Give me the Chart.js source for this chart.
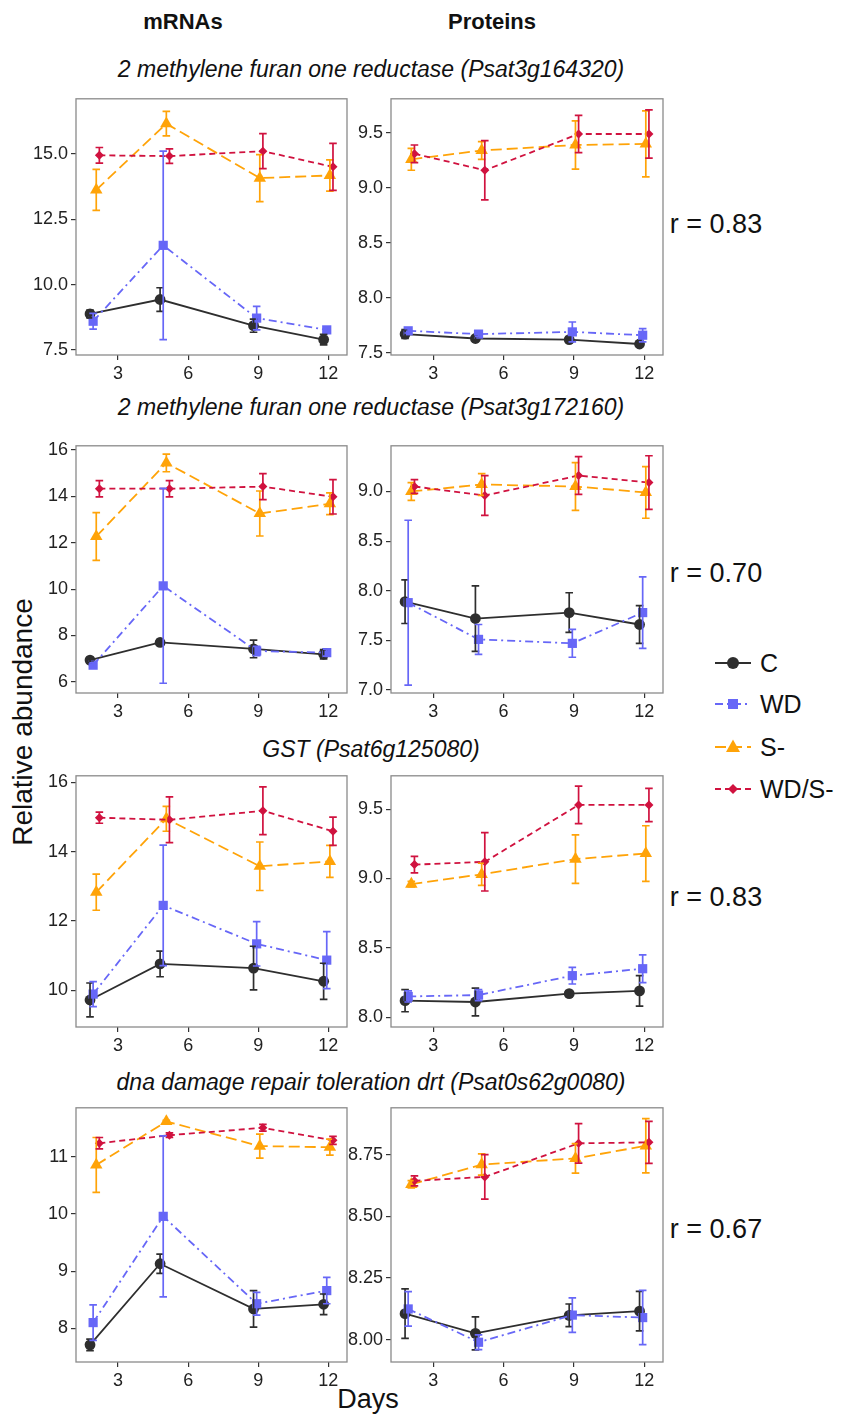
<!DOCTYPE html>
<html><head><meta charset="utf-8">
<script src="https://cdn.jsdelivr.net/npm/chart.js@4.4.0/dist/chart.umd.min.js"></script>
<style>
body{margin:0;background:#fff;width:845px;height:1419px;position:relative;overflow:hidden;font-family:"Liberation Sans",Arial,sans-serif;color:#111;}
.t{position:absolute;white-space:nowrap;transform:translate(-50%,-50%);line-height:1;}
canvas{position:absolute;}
.lg{position:absolute;left:712px;width:135px;height:26px;}
.lg svg{position:absolute;left:0;top:0;}
.lg span{position:absolute;left:48px;top:50%;transform:translateY(-50%);font-size:25px;white-space:nowrap;}
</style></head><body>
<script>
// ---------- data ----------
const days = [2, 5, 9, 12];
const seriesNames = ['C', 'WD', 'S-', 'WD/S-'];
const xTicks = [3, 6, 9, 12];

const titles = ['2 methylene furan one reductase (Psat3g164320)',
                '2 methylene furan one reductase (Psat3g172160)',
                'GST (Psat6g125080)',
                'dna damage repair toleration drt (Psat0s62g0080)'];
const rLabels = ['r = 0.83', 'r = 0.70', 'r = 0.83', 'r = 0.67'];

// means / errors per series [C, WD, S-, WD/S-] at days 2,5,9,12
const mrnaA_mean = [[8.88, 9.43, 8.43, 7.90], [8.60, 11.50, 8.72, 8.27], [13.62, 16.15, 14.07, 14.17], [14.94, 14.91, 15.10, 14.50]];
const mrnaA_err  = [[0.15, 0.45, 0.25, 0.20], [0.30, 3.60, 0.45, 0.10], [0.78, 0.47, 0.90, 0.60], [0.30, 0.28, 0.67, 0.90]];
const protA_mean = [[7.67, 7.63, 7.62, 7.58], [7.70, 7.67, 7.69, 7.66], [9.26, 9.34, 9.39, 9.40], [9.31, 9.16, 9.49, 9.49]];
const protA_err  = [[0.04, 0.02, 0.02, 0.02], [0.02, 0.02, 0.09, 0.06], [0.10, 0.08, 0.22, 0.30], [0.08, 0.27, 0.17, 0.22]];

const mrnaB_mean = [[6.94, 7.70, 7.42, 7.19], [6.72, 10.14, 7.33, 7.26], [12.27, 15.44, 13.26, 13.68], [14.33, 14.33, 14.42, 13.98]];
const mrnaB_err  = [[0.10, 0.12, 0.38, 0.20], [0.10, 4.20, 0.20, 0.15], [1.03, 0.38, 0.97, 0.47], [0.35, 0.35, 0.56, 0.74]];
const protB_mean = [[7.89, 7.72, 7.78, 7.66], [7.88, 7.51, 7.47, 7.78], [9.00, 9.07, 9.05, 8.99], [9.05, 8.96, 9.16, 9.09]];
const protB_err  = [[0.22, 0.33, 0.20, 0.19], [0.83, 0.15, 0.14, 0.36], [0.09, 0.11, 0.24, 0.26], [0.07, 0.20, 0.19, 0.27]];

const mrnaC_mean = [[9.72, 10.76, 10.64, 10.26], [9.89, 12.45, 11.34, 10.87], [12.83, 14.95, 13.58, 13.72], [14.98, 14.92, 15.18, 14.59]];
const mrnaC_err  = [[0.49, 0.37, 0.63, 0.52], [0.36, 1.74, 0.64, 0.82], [0.52, 0.36, 0.70, 0.46], [0.16, 0.66, 0.69, 0.41]];
const protC_mean = [[8.12, 8.11, 8.17, 8.19], [8.15, 8.16, 8.30, 8.35], [8.96, 9.03, 9.14, 9.18], [9.10, 9.12, 9.53, 9.53]];
const protC_err  = [[0.08, 0.10, 0.02, 0.11], [0.04, 0.04, 0.06, 0.10], [0.02, 0.08, 0.175, 0.20], [0.06, 0.21, 0.135, 0.12]];

const mrnaD_mean = [[7.71, 9.13, 8.34, 8.42], [8.10, 9.96, 8.43, 8.66], [10.86, 11.62, 11.19, 11.17], [11.24, 11.38, 11.51, 11.29]];
const mrnaD_err  = [[0.10, 0.17, 0.32, 0.18], [0.31, 1.41, 0.20, 0.23], [0.48, 0.02, 0.21, 0.14], [0.10, 0.04, 0.06, 0.07]];
const protD_mean = [[8.106, 8.026, 8.099, 8.116], [8.125, 7.990, 8.100, 8.090], [8.630, 8.710, 8.735, 8.786], [8.644, 8.660, 8.796, 8.800]];
const protD_err  = [[0.100, 0.067, 0.046, 0.080], [0.070, 0.030, 0.070, 0.110], [0.015, 0.043, 0.060, 0.110], [0.020, 0.090, 0.080, 0.085]];

// axes
const yMin = [7.31, 7.48, 5.52, 6.97, 8.94, 7.93, 7.41, 7.91];
const yMax = [17.10, 9.81, 16.18, 9.46, 16.19, 9.74, 11.86, 8.94];
const yTicks = [[7.5, 10, 12.5, 15], [7.5, 8, 8.5, 9, 9.5], [6, 8, 10, 12, 14, 16], [7, 7.5, 8, 8.5, 9],
                [10, 12, 14, 16], [8, 8.5, 9, 9.5], [8, 9, 10, 11], [8, 8.25, 8.5, 8.75]];
const yTickLabels = [['7.5', '10.0', '12.5', '15.0'], ['7.5', '8.0', '8.5', '9.0', '9.5'], ['6', '8', '10', '12', '14', '16'],
                     ['7.0', '7.5', '8.0', '8.5', '9.0'], ['10', '12', '14', '16'], ['8.0', '8.5', '9.0', '9.5'],
                     ['8', '9', '10', '11'], ['8.00', '8.25', '8.50', '8.75']];
const xMin = 1.2, xMax = 12.8;

// ---------- style / layout ----------
const FONT = '"Liberation Sans", Arial, sans-serif';
const colors = ['#2e2e2e', '#6767f7', '#ffa308', '#d0123f'];
const dashes = [[], [8, 4, 2, 4], [11, 5], [6, 4]];
const pStyles = ['circle', 'rect', 'triangle', 'rectRot'];
const pRadius = [5.4, 6.5, 7.2, 4.5];
const dodge = [-0.2, -0.067, 0.067, 0.2];
const colX = [[76, 347], [391, 663]];
const rowY = [[93, 355], [440, 693], [770, 1027], [1102, 1362]];
const titleY = [69, 407, 749, 1082];
const rY = [224, 573, 897, 1229];

const panelMeans = [mrnaA_mean, protA_mean, mrnaB_mean, protB_mean, mrnaC_mean, protC_mean, mrnaD_mean, protD_mean];
const panelErrs  = [mrnaA_err, protA_err, mrnaB_err, protB_err, mrnaC_err, protC_err, mrnaD_err, protD_err];

const CAP = 3.8;
const errPlugin = {
  id: 'errbars',
  afterDatasetsDraw(chart) {
    const ctx = chart.ctx, xs = chart.scales.x, ys = chart.scales.y;
    chart.data.datasets.forEach(ds => {
      ctx.save();
      ctx.strokeStyle = ds.borderColor; ctx.lineWidth = 1.7; ctx.setLineDash([]);
      ds.data.forEach((p, i) => {
        const e = ds.errors[i];
        const px = xs.getPixelForValue(p.x);
        const yt = ys.getPixelForValue(p.y + e), yb = ys.getPixelForValue(p.y - e);
        ctx.beginPath();
        ctx.moveTo(px, yt); ctx.lineTo(px, yb);
        ctx.moveTo(px - CAP, yt); ctx.lineTo(px + CAP, yt);
        ctx.moveTo(px - CAP, yb); ctx.lineTo(px + CAP, yb);
        ctx.stroke();
      });
      ctx.restore();
    });
  }
};
const boxPlugin = {
  id: 'box',
  afterDraw(chart) {
    const a = chart.chartArea, ctx = chart.ctx;
    ctx.save(); ctx.strokeStyle = '#8a8a8a'; ctx.lineWidth = 1.3;
    ctx.strokeRect(a.left, a.top, a.right - a.left, a.bottom - a.top);
    ctx.restore();
  }
};

function addText(txt, x, y, style) {
  const d = document.createElement('div');
  d.className = 't'; d.textContent = txt;
  d.style.left = x + 'px'; d.style.top = y + 'px';
  Object.assign(d.style, style || {});
  document.body.appendChild(d);
  return d;
}

function makePanel(idx) {
  const row = Math.floor(idx / 2), col = idx % 2;
  const [bx0, bx1] = colX[col], [by0, by1] = rowY[row];
  const YW = 62, XH = 34, PT = 8, PR = 8;
  const w = YW + (bx1 - bx0) + PR, h = PT + (by1 - by0) + XH;
  const cv = document.createElement('canvas');
  cv.width = w; cv.height = h;
  cv.style.left = (bx0 - YW) + 'px'; cv.style.top = (by0 - PT) + 'px';
  cv.style.width = w + 'px'; cv.style.height = h + 'px';
  document.body.appendChild(cv);
  const means = panelMeans[idx], errs = panelErrs[idx];
  const datasets = seriesNames.map((name, s) => ({
    label: name,
    data: days.map((d, i) => ({ x: d + dodge[s], y: means[s][i] })),
    errors: errs[s],
    borderColor: colors[s], backgroundColor: colors[s],
    borderWidth: 1.8, borderDash: dashes[s],
    pointStyle: pStyles[s], pointRadius: pRadius[s], pointHoverRadius: pRadius[s],
    pointBackgroundColor: colors[s], pointBorderColor: colors[s], pointBorderWidth: 0,
    tension: 0, fill: false, order: 4 - s, clip: false
  }));
  const gridOpt = { drawOnChartArea: false, drawTicks: true, tickLength: 5, color: '#333', lineWidth: 1.2 };
  const tickFont = { size: 18, family: FONT };
  new Chart(cv, {
    type: 'line',
    data: { datasets },
    options: {
      responsive: false, animation: false, devicePixelRatio: 1, events: [],
      layout: { padding: { top: PT, right: PR, left: 0, bottom: 0 } },
      plugins: { legend: { display: false }, tooltip: { enabled: false } },
      scales: {
        x: {
          type: 'linear', min: xMin, max: xMax,
          afterBuildTicks: s => { s.ticks = xTicks.map(v => ({ value: v })); },
          afterFit: s => { s.height = XH; },
          ticks: { font: tickFont, color: '#222', padding: 3, maxRotation: 0, autoSkip: false, callback: v => String(v) },
          grid: gridOpt, border: { display: false }
        },
        y: {
          type: 'linear', min: yMin[idx], max: yMax[idx],
          afterBuildTicks: s => { s.ticks = yTicks[idx].map(v => ({ value: v })); },
          afterFit: s => { s.width = YW; },
          ticks: { font: tickFont, color: '#222', padding: 3, autoSkip: false, callback: (v, i) => yTickLabels[idx][i] },
          grid: gridOpt, border: { display: false }
        }
      }
    },
    plugins: [errPlugin, boxPlugin]
  });
}

// headers and texts
addText('mRNAs', 183, 22, { fontWeight: 'bold', fontSize: '22px' });
addText('Proteins', 492, 22, { fontWeight: 'bold', fontSize: '22px' });
titles.forEach((t, i) => addText(t, 371, titleY[i], { fontStyle: 'italic', fontSize: '23px' }));
rLabels.forEach((t, i) => addText(t, 716, rY[i], { fontSize: '27px' }));
addText('Relative abundance', 23, 722, { fontSize: '28px', transform: 'translate(-50%,-50%) rotate(-90deg)' });
addText('Days', 368, 1399, { fontSize: '27px' });

for (let i = 0; i < 8; i++) makePanel(i);

// legend
const legY = [663, 704, 747, 789];
seriesNames.forEach((name, s) => {
  const d = document.createElement('div');
  d.className = 'lg'; d.style.top = (legY[s] - 13) + 'px';
  const c = colors[s];
  let marker = '';
  if (s === 0) marker = `<circle cx="21" cy="13" r="6" fill="${c}"/>`;
  if (s === 1) marker = `<rect x="16" y="8" width="10" height="10" fill="${c}"/>`;
  if (s === 2) marker = `<polygon points="21,5.5 28,18 14,18" fill="${c}"/>`;
  if (s === 3) marker = `<polygon points="21,8 26,13 21,18 16,13" fill="${c}"/>`;
  const dash = dashes[s].length ? `stroke-dasharray="${dashes[s].join(',')}"` : '';
  d.innerHTML = `<svg width="44" height="26"><line x1="3" y1="13" x2="39" y2="13" stroke="${c}" stroke-width="2" ${dash}/>${marker}</svg><span>${name}</span>`;
  document.body.appendChild(d);
});
</script>
</body></html>
